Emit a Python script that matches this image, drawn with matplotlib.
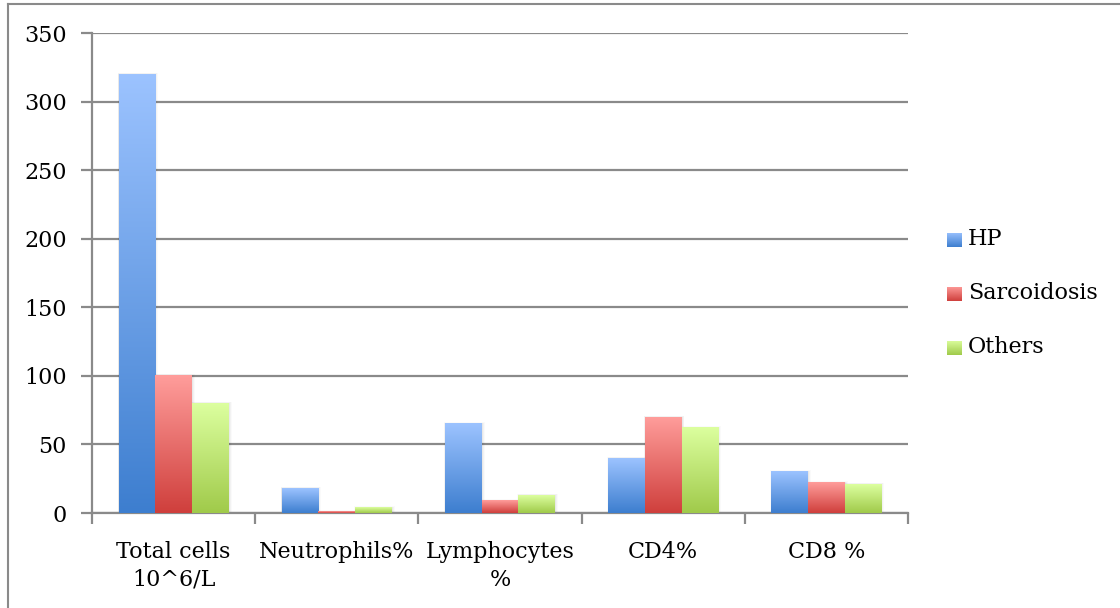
import numpy as np
import matplotlib.pyplot as plt
from matplotlib.colors import LinearSegmentedColormap
from matplotlib.patches import Rectangle
from matplotlib.lines import Line2D

# BAL cell counts by diagnosis group
categories = ["Total cells\n10^6/L", "Neutrophils%", "Lymphocytes\n%", "CD4%", "CD8 %"]
series_names = ["HP", "Sarcoidosis", "Others"]
hp = [320, 18, 65, 40, 30]
sarcoidosis = [100, 1, 9, 70, 22]
others = [80, 4, 13, 62, 21]
y_ticks = [0, 50, 100, 150, 200, 250, 300, 350]

# gradient end colours per series (top, bottom)
grads = [("#9cc3ff", "#3d7ecf"), ("#ff9d9b", "#cf3f3c"), ("#dcff9f", "#a0ca4a")]
cmaps = [LinearSegmentedColormap.from_list(n, [b, t]) for n, (t, b) in zip(series_names, grads)]

plt.rcParams["font.family"] = ["DejaVu Serif"]
plt.rcParams["font.size"] = 16

fig = plt.figure(figsize=(11.2, 6.08), dpi=100)
ax = fig.add_axes([92 / 1120, 1 - 513 / 608, 816 / 1120, 480 / 608])

x = np.arange(len(categories))
width = 0.225
grad = np.linspace(0, 1, 256).reshape(-1, 1)

for i, (vals, cmap) in enumerate(zip([hp, sarcoidosis, others], cmaps)):
    bars = ax.bar(x + (i - 1) * width, vals, width, color="none", zorder=3)
    for b in bars:
        x0, w, h = b.get_x(), b.get_width(), b.get_height()
        # soft drop shadow
        for k, a in enumerate([0.04, 0.03, 0.02]):
            d = 0.006 * (k + 1)
            ax.add_patch(Rectangle((x0 - d * 0.3, -0.5), w + d * 1.3, h + 0.5 + d * 60,
                                   facecolor="black", alpha=a, lw=0, zorder=2))
        ax.imshow(grad, extent=[x0, x0 + w, 0, h], origin="lower", aspect="auto",
                  cmap=cmap, zorder=4)

ax.set_xlim(-0.5, len(categories) - 0.5)
ax.set_ylim(0, 350)
ax.set_yticks(y_ticks)
ax.yaxis.grid(True, color="#8a8a8a", lw=1.6, zorder=1)
ax.set_axisbelow(True)

ax.set_xticks(np.arange(-0.5, len(categories), 1.0))
ax.set_xticklabels([])
ax.set_xticks(x, minor=True)
ax.set_xticklabels(categories, minor=True, linespacing=1.35)
ax.tick_params(axis="x", which="minor", length=0, pad=20)
ax.tick_params(axis="x", which="major", length=8, width=1.6, color="#8a8a8a", direction="out")
ax.tick_params(axis="y", length=8, width=1.6, color="#8a8a8a", pad=10)

for s in ["top", "right"]:
    ax.spines[s].set_visible(False)
for s in ["left", "bottom"]:
    ax.spines[s].set_color("#8a8a8a")
    ax.spines[s].set_linewidth(1.6)

# legend keys with gradient swatches
for i, (name, cmap) in enumerate(zip(series_names, cmaps)):
    yc = 240 + i * 54
    kax = fig.add_axes([947 / 1120, 1 - (yc + 7.5) / 608, 15 / 1120, 15 / 608])
    kax.imshow(grad, origin="lower", aspect="auto", cmap=cmap)
    kax.axis("off")
    fig.text(968 / 1120, 1 - (yc - 1) / 608, name, va="center", ha="left")

# outer chart frame (left and top edges)
fig.add_artist(Line2D([8 / 1120, 8 / 1120], [0, 1 - 4 / 608], color="#8a8a8a", lw=1.5))
fig.add_artist(Line2D([8 / 1120, 1], [1 - 4 / 608, 1 - 4 / 608], color="#8a8a8a", lw=1.5))

fig.savefig("out.png", dpi=100)
